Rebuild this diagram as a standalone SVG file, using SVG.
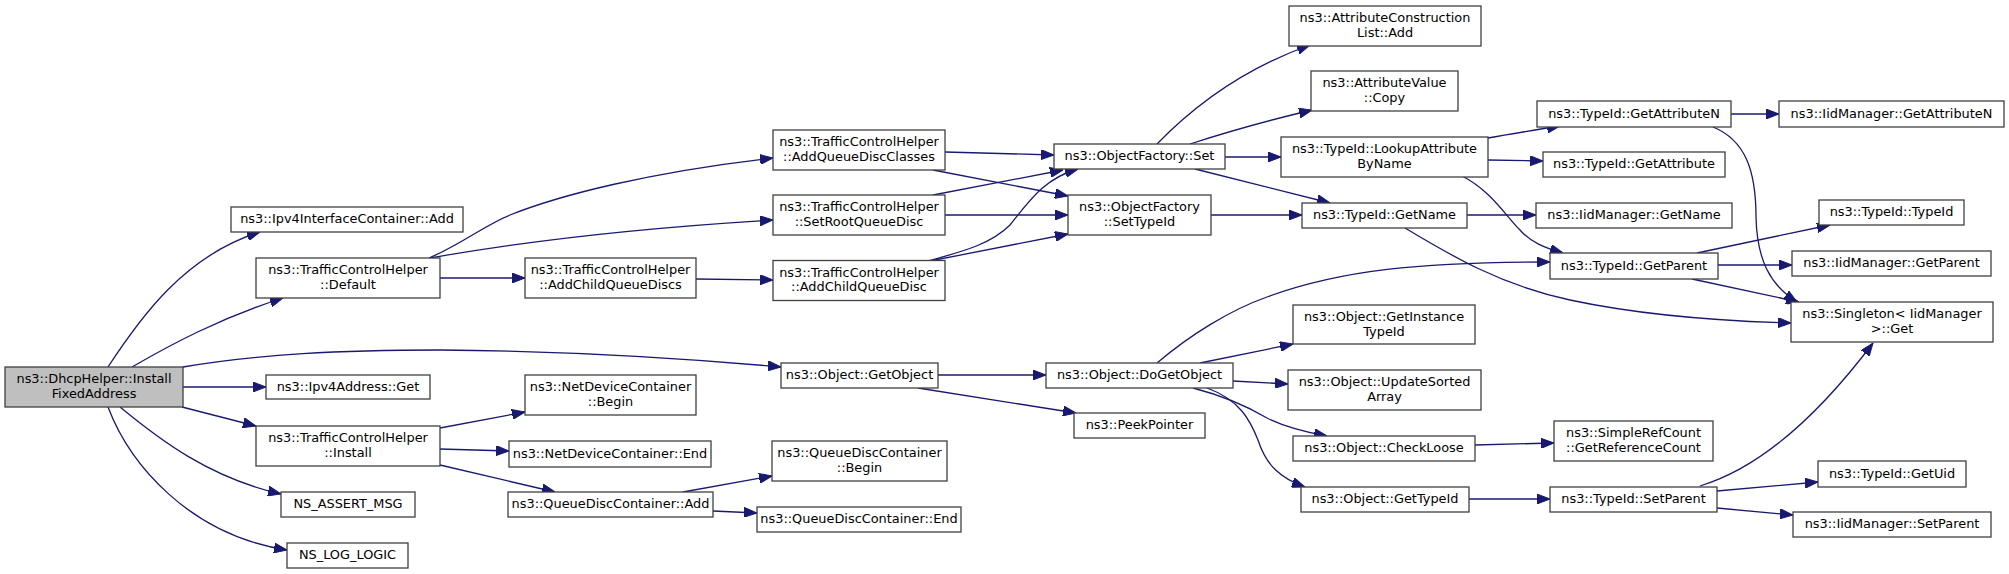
<svg xmlns="http://www.w3.org/2000/svg" width="2009" height="574" viewBox="0 0 2009 574">
<style>
.n rect{fill:#ffffff;stroke:#404040;stroke-width:1.3}
.n.root rect{fill:#bfbfbf}
.n text{font-family:"DejaVu Sans",Verdana,sans-serif;font-size:12.9px;fill:#000000;text-anchor:middle}
.e path{fill:none;stroke:#191970;stroke-width:1.3;marker-end:url(#arr)}
</style>
<defs>
<marker id="arr" viewBox="0 0 13 10" refX="13" refY="5" markerWidth="13" markerHeight="10" markerUnits="userSpaceOnUse" orient="auto">
<path d="M0,0 L13,5 L0,10 z" fill="#191970" stroke="#191970" stroke-width="1"/>
</marker>
</defs>
<rect width="2009" height="574" fill="#ffffff"/>
<g id="edges" class="e">
<path d="M108,367 C140,318 185,255 260,232"/>
<path d="M132,367 C170,345 220,318 283,298"/>
<path d="M183,367 C260,354 340,350 440,350 C560,351 680,358 781,367"/>
<path d="M183,387 L266,387"/>
<path d="M182,407 L256,426"/>
<path d="M120,407 C160,440 210,478 281,494"/>
<path d="M108,407 C130,465 190,535 287,550"/>
<path d="M429,258 C460,245 485,225 510,215 C560,195 650,172 773,158"/>
<path d="M430,258 C520,242 640,228 773,220"/>
<path d="M440,278 L525,278"/>
<path d="M696,279 L773,280"/>
<path d="M945,152 L1054,155"/>
<path d="M933,170 L1068,196"/>
<path d="M933,195 L1063,170"/>
<path d="M945,215 L1068,215"/>
<path d="M928,261 C960,252 990,245 1010,225 C1030,200 1045,178 1078,169"/>
<path d="M930,261 L1068,234"/>
<path d="M1157,144 C1190,110 1240,70 1310,45"/>
<path d="M1190,144 C1230,131 1270,120 1312,110"/>
<path d="M1225,157 L1281,157"/>
<path d="M1195,169 L1330,203"/>
<path d="M1211,215 L1302,215"/>
<path d="M1488,138 C1510,134 1535,130 1560,126"/>
<path d="M1488,160 L1543,161"/>
<path d="M1462,176 C1490,190 1505,215 1520,230 C1530,242 1545,248 1563,253"/>
<path d="M1467,215 L1536,215"/>
<path d="M1405,228 C1450,255 1500,285 1570,300 C1640,315 1720,321 1791,323"/>
<path d="M1731,114 L1779,114"/>
<path d="M1713,127 C1745,140 1756,170 1756,217 C1757,260 1770,285 1797,302"/>
<path d="M1697,253 L1830,225"/>
<path d="M1718,265 L1792,265"/>
<path d="M1692,279 L1799,302"/>
<path d="M938,375 L1046,375"/>
<path d="M918,388 L1076,413"/>
<path d="M1157,363 C1190,335 1230,310 1267,297 C1340,270 1420,262 1550,262"/>
<path d="M1200,363 L1293,344"/>
<path d="M1233,381 L1288,384"/>
<path d="M1193,388 C1220,395 1245,405 1267,418 C1285,427 1305,432 1327,436"/>
<path d="M1207,388 C1240,400 1250,420 1258,440 C1266,465 1280,478 1305,487"/>
<path d="M1475,445 L1554,443"/>
<path d="M1469,499 L1550,499"/>
<path d="M1700,486 C1770,465 1830,400 1873,343"/>
<path d="M1717,491 L1818,482"/>
<path d="M1717,508 L1793,515"/>
<path d="M440,428 L525,412"/>
<path d="M440,449 L509,451"/>
<path d="M440,465 L555,492"/>
<path d="M683,492 L772,476"/>
<path d="M713,511 L757,513"/>
</g>
<g id="n0" class="n root"><rect x="5" y="367" width="178" height="40"/><text x="94" y="383">ns3::DhcpHelper::Install</text><text x="94" y="397.5">FixedAddress</text></g>
<g id="n1" class="n"><rect x="231" y="207" width="232" height="25"/><text x="347" y="223">ns3::Ipv4InterfaceContainer::Add</text></g>
<g id="n2" class="n"><rect x="256" y="258" width="184" height="40"/><text x="348" y="274">ns3::TrafficControlHelper</text><text x="348" y="288.5">::Default</text></g>
<g id="n3" class="n"><rect x="781" y="363" width="157" height="25"/><text x="859.5" y="379">ns3::Object::GetObject</text></g>
<g id="n4" class="n"><rect x="266" y="375" width="164" height="24"/><text x="348" y="390.5">ns3::Ipv4Address::Get</text></g>
<g id="n5" class="n"><rect x="256" y="426" width="184" height="40"/><text x="348" y="442">ns3::TrafficControlHelper</text><text x="348" y="456.5">::Install</text></g>
<g id="n6" class="n"><rect x="281" y="492" width="134" height="25"/><text x="348" y="508">NS_ASSERT_MSG</text></g>
<g id="n7" class="n"><rect x="287" y="543" width="121" height="25"/><text x="347.5" y="559">NS_LOG_LOGIC</text></g>
<g id="n8" class="n"><rect x="773" y="130" width="172" height="40"/><text x="859" y="146">ns3::TrafficControlHelper</text><text x="859" y="160.5">::AddQueueDiscClasses</text></g>
<g id="n9" class="n"><rect x="773" y="195" width="172" height="40"/><text x="859" y="211">ns3::TrafficControlHelper</text><text x="859" y="225.5">::SetRootQueueDisc</text></g>
<g id="n10" class="n"><rect x="525" y="258" width="171" height="40"/><text x="610.5" y="274">ns3::TrafficControlHelper</text><text x="610.5" y="288.5">::AddChildQueueDiscs</text></g>
<g id="n11" class="n"><rect x="773" y="260.5" width="172" height="40"/><text x="859" y="276.5">ns3::TrafficControlHelper</text><text x="859" y="291">::AddChildQueueDisc</text></g>
<g id="n12" class="n"><rect x="1054" y="144" width="171" height="25"/><text x="1139.5" y="160">ns3::ObjectFactory::Set</text></g>
<g id="n13" class="n"><rect x="1068" y="195" width="143" height="40"/><text x="1139.5" y="211">ns3::ObjectFactory</text><text x="1139.5" y="225.5">::SetTypeId</text></g>
<g id="n14" class="n"><rect x="1289" y="6" width="192" height="40"/><text x="1385" y="22">ns3::AttributeConstruction</text><text x="1385" y="36.5">List::Add</text></g>
<g id="n15" class="n"><rect x="1311" y="71" width="147" height="40"/><text x="1384.5" y="87">ns3::AttributeValue</text><text x="1384.5" y="101.5">::Copy</text></g>
<g id="n16" class="n"><rect x="1281" y="137" width="207" height="40"/><text x="1384.5" y="153">ns3::TypeId::LookupAttribute</text><text x="1384.5" y="167.5">ByName</text></g>
<g id="n17" class="n"><rect x="1302" y="203" width="165" height="25"/><text x="1384.5" y="219">ns3::TypeId::GetName</text></g>
<g id="n18" class="n"><rect x="1537" y="101" width="194" height="26"/><text x="1634" y="117.5">ns3::TypeId::GetAttributeN</text></g>
<g id="n19" class="n"><rect x="1779" y="101" width="225" height="26"/><text x="1891.5" y="117.5">ns3::IidManager::GetAttributeN</text></g>
<g id="n20" class="n"><rect x="1543" y="152" width="182" height="25"/><text x="1634" y="168">ns3::TypeId::GetAttribute</text></g>
<g id="n21" class="n"><rect x="1536" y="203" width="196" height="25"/><text x="1634" y="219">ns3::IidManager::GetName</text></g>
<g id="n22" class="n"><rect x="1819" y="200" width="145" height="25"/><text x="1891.5" y="216">ns3::TypeId::TypeId</text></g>
<g id="n23" class="n"><rect x="1550" y="253" width="168" height="26"/><text x="1634" y="269.5">ns3::TypeId::GetParent</text></g>
<g id="n24" class="n"><rect x="1792" y="251" width="199" height="25"/><text x="1891.5" y="267">ns3::IidManager::GetParent</text></g>
<g id="n25" class="n"><rect x="1791" y="302" width="202" height="40"/><text x="1892" y="318">ns3::Singleton&lt; IidManager</text><text x="1892" y="332.5">&gt;::Get</text></g>
<g id="n26" class="n"><rect x="1046" y="363" width="187" height="25"/><text x="1139.5" y="379">ns3::Object::DoGetObject</text></g>
<g id="n27" class="n"><rect x="1074" y="413" width="131" height="25"/><text x="1139.5" y="429">ns3::PeekPointer</text></g>
<g id="n28" class="n"><rect x="1293" y="305" width="182" height="39"/><text x="1384" y="321">ns3::Object::GetInstance</text><text x="1384" y="335.5">TypeId</text></g>
<g id="n29" class="n"><rect x="1288" y="370" width="193" height="40"/><text x="1384.5" y="386">ns3::Object::UpdateSorted</text><text x="1384.5" y="400.5">Array</text></g>
<g id="n30" class="n"><rect x="1293" y="436" width="182" height="25"/><text x="1384" y="452">ns3::Object::CheckLoose</text></g>
<g id="n31" class="n"><rect x="1301" y="487" width="168" height="25"/><text x="1385" y="503">ns3::Object::GetTypeId</text></g>
<g id="n32" class="n"><rect x="1554" y="421" width="159" height="40"/><text x="1633.5" y="437">ns3::SimpleRefCount</text><text x="1633.5" y="451.5">::GetReferenceCount</text></g>
<g id="n33" class="n"><rect x="1550" y="487" width="167" height="25"/><text x="1633.5" y="503">ns3::TypeId::SetParent</text></g>
<g id="n34" class="n"><rect x="1818" y="461" width="148" height="26"/><text x="1892" y="477.5">ns3::TypeId::GetUid</text></g>
<g id="n35" class="n"><rect x="1793" y="512" width="198" height="25"/><text x="1892" y="528">ns3::IidManager::SetParent</text></g>
<g id="n36" class="n"><rect x="525" y="375" width="171" height="40"/><text x="610.5" y="391">ns3::NetDeviceContainer</text><text x="610.5" y="405.5">::Begin</text></g>
<g id="n37" class="n"><rect x="509" y="441" width="202" height="26"/><text x="610" y="457.5">ns3::NetDeviceContainer::End</text></g>
<g id="n38" class="n"><rect x="508" y="492" width="205" height="25"/><text x="610.5" y="508">ns3::QueueDiscContainer::Add</text></g>
<g id="n39" class="n"><rect x="772" y="441" width="175" height="40"/><text x="859.5" y="457">ns3::QueueDiscContainer</text><text x="859.5" y="471.5">::Begin</text></g>
<g id="n40" class="n"><rect x="757" y="507" width="204" height="25"/><text x="859" y="523">ns3::QueueDiscContainer::End</text></g>
</svg>
